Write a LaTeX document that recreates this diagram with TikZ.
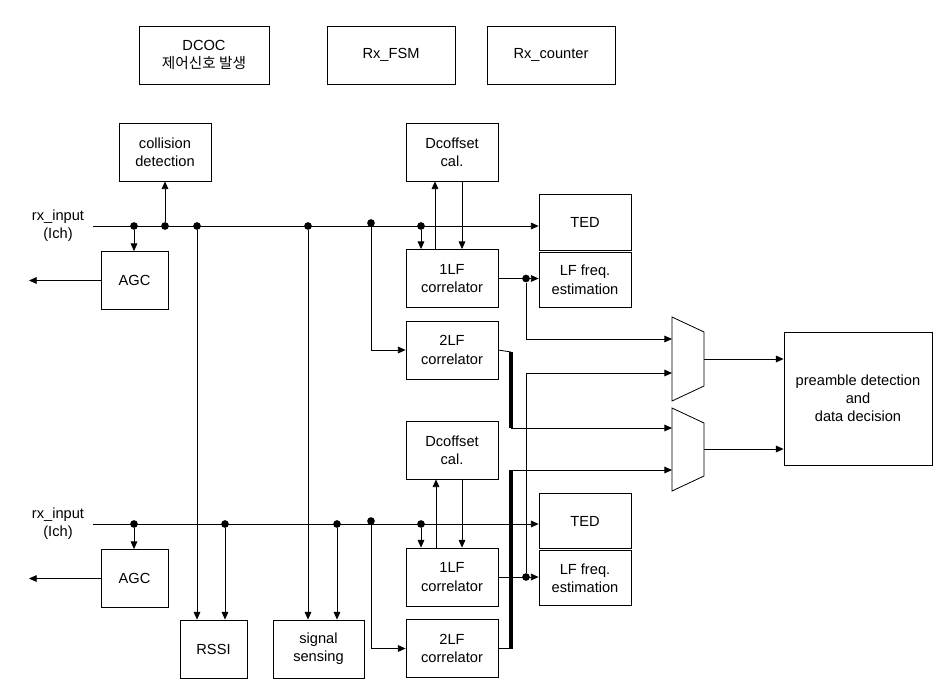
\documentclass[tikz,border=0pt]{standalone}
\usepackage{fontspec}
\setmainfont{Liberation Sans}
\newfontfamily\krfont{Noto Sans CJK KR}
\usetikzlibrary{arrows.meta}

\begin{document}
\begin{tikzpicture}[x=0.03cm, y=-0.03cm, line width=0.7pt, >={Triangle[length=2.3mm,width=2mm]},
  font=\fontsize{12.5}{15.5}\selectfont,
  box/.style={draw, align=center, inner sep=0pt, minimum width={#1*0.03cm}, minimum height={58*0.03cm}},
  box/.default=92,
  dot/.style={circle, fill, inner sep=0pt, minimum size=0.23cm},
  bar/.style={line width=2.6pt}]
  \useasboundingbox (0,0) rectangle (949,690);

  \node[box=130] (dcoc) at (204,55) {DCOC\\{\krfont 제어신호 발생}};
  \node[box=128] (fsm) at (391,55) {Rx\_FSM};
  \node[box=128] (cnt) at (551,55) {Rx\_counter};

  \node[box] (col) at (165,152) {collision\\detection};
  \node[box=67] (agcA) at (134.5,280.5) {AGC};
  \node[box] (dcA) at (452,152) {Dcoffset\\cal.};
  \node[box] (lf1A) at (452,278.5) {1LF\\correlator};
  \node[box] (lf2A) at (452,350) {2LF\\correlator};
  \node[box, minimum height={56*0.03cm}] (tedA) at (585,222) {TED};
  \node[box, minimum height={55*0.03cm}] (lfeA) at (585,279.8) {LF freq.\\estimation};
  \node[box=148, minimum height={133*0.03cm}] (pre) at (858,398.5) {preamble detection\\and\\data decision};

  \node[box] (dcB) at (452,450) {Dcoffset\\cal.};
  \node[box=67] (agcB) at (134.5,578.5) {AGC};
  \node[box=67] (rssi) at (213.5,649) {RSSI};
  \node[box=91] (sens) at (318.5,649) {signal\\sensing};
  \node[box] (lf1B) at (452,577) {1LF\\correlator};
  \node[box] (lf2B) at (452,648.5) {2LF\\correlator};
  \node[box, minimum height={55*0.03cm}] (tedB) at (585,521) {TED};
  \node[box, minimum height={55*0.03cm}] (lfeB) at (585,578.3) {LF freq.\\estimation};

  \node[align=center] (inA) at (58,226) {rx\_input\\(Ich)};
  \node[align=center] (inB) at (58,524) {rx\_input\\(Ich)};

  \draw (672,317) -- (704,332) -- (704,386) -- (672,401) -- cycle;
  \draw (672,408) -- (704,423) -- (704,476) -- (672,491) -- cycle;
  \coordinate (m1i1) at (672,339);
  \coordinate (m1i2) at (672,373);
  \coordinate (m1o) at (704,359);
  \coordinate (m2i1) at (672,428);
  \coordinate (m2i2) at (672,470);
  \coordinate (m2o) at (704,449);

  \coordinate (busA) at (93,226);
  \coordinate (busB) at (93,524);
  \coordinate (outA) at (29,280.5);
  \coordinate (outB) at (29,578.5);
  \coordinate (barA) at (511,352);
  \coordinate (barA2) at (511,428);
  \coordinate (barB) at (511,648.5);
  \coordinate (barB2) at (511,470);

  \node[dot] (a1) at (134,226) {};
  \node[dot] (a2) at (165,226) {};
  \node[dot] (a3) at (197,226) {};
  \node[dot] (a4) at (308,226) {};
  \node[dot] (a5) at (371,223) {};
  \node[dot] (a6) at (421,226) {};
  \node[dot] (a7) at (526,278.5) {};
  \node[dot] (b1) at (134,524) {};
  \node[dot] (b2) at (225,524) {};
  \node[dot] (b3) at (337,524) {};
  \node[dot] (b4) at (371,521) {};
  \node[dot] (b5) at (421,524) {};
  \node[dot] (b6) at (526,577) {};

  \draw[->] (busA) -- (busA -| tedA.west);
  \draw[->] (a1) -- (a1 |- agcA.north);
  \draw[->] (a2) -- (a2 |- col.south);
  \draw[->] (agcA.west) -- (outA);
  \draw[->] (a3) -- (a3 |- rssi.north);
  \draw[->] (a4) -- (a4 |- sens.north);
  \draw[->] (a5) |- (lf2A.west);
  \draw[->] (a6) -- (a6 |- lf1A.north);
  \draw[->] (lf1A.north -| 435,0) -- (dcA.south -| 435,0);
  \draw[->] (dcA.south -| 462,0) -- (lf1A.north -| 462,0);
  \draw[->] (lf1A.east) -- (lf1A.east -| lfeA.west);
  \draw[->] (a7) |- (m1i1);
  \draw (lf2A.east) -- (barA);
  \draw[bar] (barA) -- (barA2);
  \draw[->] (barA2) -- (m2i1);

  \draw[->] (busB) -- (busB -| tedB.west);
  \draw[->] (b1) -- (b1 |- agcB.north);
  \draw[->] (agcB.west) -- (outB);
  \draw[->] (b2) -- (b2 |- rssi.north);
  \draw[->] (b3) -- (b3 |- sens.north);
  \draw[->] (b4) |- (lf2B.west);
  \draw[->] (b5) -- (b5 |- lf1B.north);
  \draw[->] (lf1B.north -| 436,0) -- (dcB.south -| 436,0);
  \draw[->] (dcB.south -| 462,0) -- (lf1B.north -| 462,0);
  \draw[->] (lf1B.east) -- (lf1B.east -| lfeB.west);
  \draw[->] (b6) |- (m1i2);
  \draw (lf2B.east) -- (barB);
  \draw[bar] (barB) -- (barB2);
  \draw[->] (barB2) -- (m2i2);

  \draw[->] (m1o) -- (m1o -| pre.west);
  \draw[->] (m2o) -- (m2o -| pre.west);
\end{tikzpicture}
\end{document}
